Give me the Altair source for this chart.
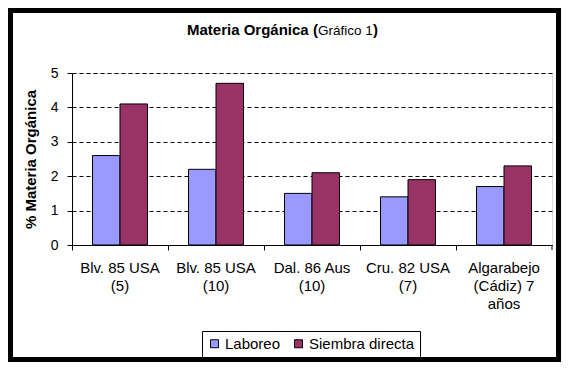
import altair as alt
import pandas as pd

categories = ["Blv. 85 USA|(5)", "Blv. 85 USA|(10)", "Dal. 86 Aus|(10)", "Cru. 82 USA|(7)", "Algarabejo|(Cádiz) 7|años"]
series = ["Laboreo", "Siembra directa"]
laboreo = [2.6, 2.2, 1.5, 1.4, 1.7]
siembra = [4.1, 4.7, 2.1, 1.9, 2.3]
colors = ["#9999FF", "#993366"]
y_ticks = [0, 1, 2, 3, 4, 5]
title_parts = ["Materia Orgánica (", "Gráfico 1", ")"]
y_title = "% Materia Orgánica"

FONT = "Liberation Sans"

rows = []
for c, a, b in zip(categories, laboreo, siembra):
    rows.append({"cat": c, "serie": series[0], "val": a})
    rows.append({"cat": c, "serie": series[1], "val": b})
df = pd.DataFrame(rows)

W, H = 480, 172

bars = alt.Chart(df).mark_bar(stroke="black", strokeWidth=1).encode(
    x=alt.X("cat:N", sort=categories,
            scale=alt.Scale(paddingInner=0, paddingOuter=0),
            axis=alt.Axis(title=None, labelAngle=0, labelExpr="split(datum.label, '|')",
                          bandPosition=0, grid=False, domainColor="black", tickColor="black",
                          tickSize=5, labelFontSize=15, labelColor="black", labelFont=FONT,
                          labelPadding=10, labelLineHeight=18, labelLimit=0)),
    xOffset=alt.XOffset("serie:N", sort=series,
                        scale=alt.Scale(paddingOuter=0.745, paddingInner=0)),
    y=alt.Y("val:Q", scale=alt.Scale(domain=[0, 5]),
            axis=alt.Axis(title=y_title, values=y_ticks, format="d", grid=True,
                          gridColor="black", gridDash=[4, 3], gridOpacity=1,
                          domainColor="black", tickColor="black", tickSize=5,
                          labelFontSize=14, labelColor="black", labelFont=FONT, labelPadding=9,
                          titleFont=FONT, titleFontSize=15, titleFontWeight="bold",
                          titleColor="black", titlePadding=12)),
    color=alt.Color("serie:N", sort=series,
                    scale=alt.Scale(domain=series, range=colors),
                    legend=alt.Legend(title=None, orient="none", legendX=130, legendY=258,
                                      direction="horizontal", strokeColor="black",
                                      fillColor="white", padding=5, symbolType="square",
                                      symbolSize=64, symbolStrokeColor="black",
                                      symbolStrokeWidth=1, labelFontSize=15,
                                      labelFont=FONT, labelColor="black", labelOffset=3,
                                      columnPadding=10)),
)

t1 = alt.Chart(pd.DataFrame({"t": [title_parts[0]]})).mark_text(
    align="left", baseline="alphabetic", font=FONT, fontSize=15, fontWeight="bold", color="black"
).encode(text="t:N", x=alt.value(115), y=alt.value(-38))
t2 = alt.Chart(pd.DataFrame({"t": [title_parts[1]]})).mark_text(
    align="left", baseline="alphabetic", font=FONT, fontSize=13.5, color="black"
).encode(text="t:N", x=alt.value(246), y=alt.value(-38))
t3 = alt.Chart(pd.DataFrame({"t": [title_parts[2]]})).mark_text(
    align="left", baseline="alphabetic", font=FONT, fontSize=15, fontWeight="bold", color="black"
).encode(text="t:N", x=alt.value(301), y=alt.value(-38))

end_tick = alt.Chart(pd.DataFrame({"a": [0]})).mark_rule(color="black", strokeWidth=1).encode(
    x=alt.value(W), y=alt.value(H), y2=alt.value(H + 5))

frame = alt.Chart(pd.DataFrame({"a": [0]})).mark_rect(
    fillOpacity=0, stroke="black", strokeWidth=5
).encode(x=alt.value(-61.5), x2=alt.value(486.5), y=alt.value(-62.5), y2=alt.value(286.5))

chart = alt.layer(frame, bars, end_tick, t1, t2, t3).properties(
    width=W, height=H,
    padding={"left": 64, "top": 65, "right": 9, "bottom": 117},
    autosize=alt.AutoSizeParams(type="none"),
    background="white",
).configure_view(strokeWidth=0).configure(font=FONT)

chart.save("out.html", embed_options={"renderer": "svg", "actions": False})
